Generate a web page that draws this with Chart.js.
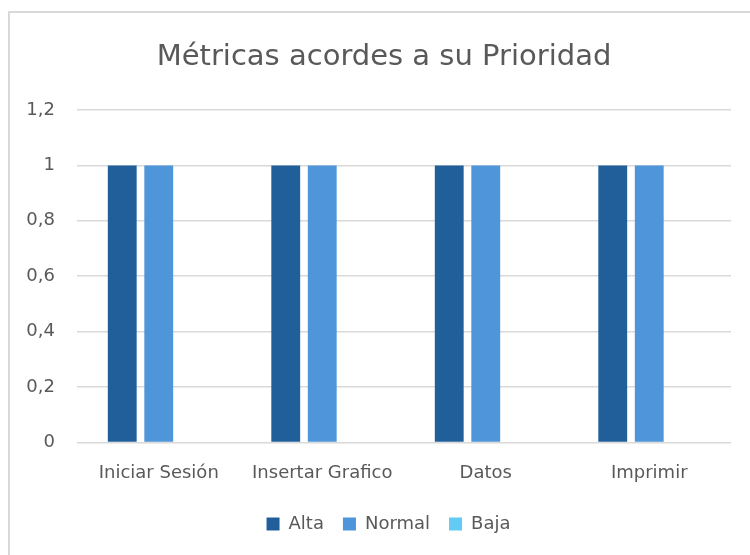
<!DOCTYPE html>
<html>
<head>
<meta charset="utf-8">
<script src="https://cdn.jsdelivr.net/npm/chart.js@4"></script>
<style>
  html, body { margin: 0; padding: 0; background: #ffffff; }
  body { width: 750px; height: 555px; overflow: hidden; position: relative; }
  #frame {
    position: absolute; left: 8px; top: 11px;
    width: 742px; height: 544px;
    border-left: 2px solid #d9d9d9; border-top: 2px solid #d9d9d9;
    box-sizing: border-box;
  }
  #wrap { position: absolute; left: 10px; top: 13px; width: 740px; height: 542px; }
</style>
</head>
<body>
<div id="frame"></div>
<div id="wrap"><canvas id="chart"></canvas></div>
<script>
// Categories, series and axis ticks
const categories = ['Iniciar Sesión', 'Insertar Grafico', 'Datos', 'Imprimir'];
const alta = [1, 1, 1, 1];
const normal = [1, 1, 1, 1];
const baja = [0, 0, 0, 0];
const yTicks = [0, 0.2, 0.4, 0.6, 0.8, 1, 1.2];
const chartTitle = 'Métricas acordes a su Prioridad';

const textColor = '#595959';
const fontFamily = '"DejaVu Sans", Verdana, sans-serif';

const canvas = document.getElementById('chart');
canvas.width = 740; canvas.height = 542;

// Title centred on the whole frame rather than on the padded layout box
const frameTitle = {
  id: 'frameTitle',
  afterDraw(chart) {
    const ctx = chart.ctx;
    ctx.save();
    ctx.fillStyle = textColor;
    ctx.font = '29px ' + fontFamily;
    ctx.textAlign = 'center';
    ctx.textBaseline = 'alphabetic';
    ctx.fillText(chartTitle, 374, 52);
    ctx.restore();
  }
};

// Nudge the bottom legend so it sits centred under the frame
const legendShift = {
  id: 'legendShift',
  afterLayout(chart) {
    if (chart.legend) {
      chart.legend.left += 18;
      chart.legend.right += 18;
    }
  }
};

new Chart(canvas, {
  type: 'bar',
  data: {
    labels: categories,
    datasets: [
      { label: 'Alta', data: alta, backgroundColor: '#215f9a' },
      { label: 'Normal', data: normal, backgroundColor: '#4e95d9' },
      { label: 'Baja', data: baja, backgroundColor: '#61cbf3' }
    ]
  },
  plugins: [frameTitle, legendShift],
  options: {
    responsive: false,
    animation: false,
    devicePixelRatio: 1,
    layout: { padding: { left: 0, right: 19, top: 97, bottom: 12 } },
    datasets: { bar: { categoryPercentage: 0.67, barPercentage: 0.79 } },
    plugins: {
      title: { display: false },
      legend: {
        position: 'bottom',
        labels: {
          color: textColor,
          font: { family: fontFamily, size: 18 },
          boxWidth: 13, boxHeight: 13, padding: 19
        }
      },
      tooltip: { enabled: false }
    },
    scales: {
      x: {
        grid: { display: false },
        border: { display: false },
        ticks: { color: textColor, font: { family: fontFamily, size: 18 }, padding: 12 }
      },
      y: {
        min: 0, max: 1.2,
        afterBuildTicks: (axis) => { axis.ticks = yTicks.map(v => ({ value: v })); },
        afterFit: (axis) => { axis.width = 67; },
        grid: { color: '#d9d9d9', lineWidth: 1.5, drawTicks: false },
        border: { display: false },
        ticks: {
          color: textColor,
          font: { family: fontFamily, size: 18 },
          padding: 22,
          callback: (v) => String(Math.round(v * 10) / 10).replace('.', ',')
        }
      }
    }
  }
});
</script>
</body>
</html>
